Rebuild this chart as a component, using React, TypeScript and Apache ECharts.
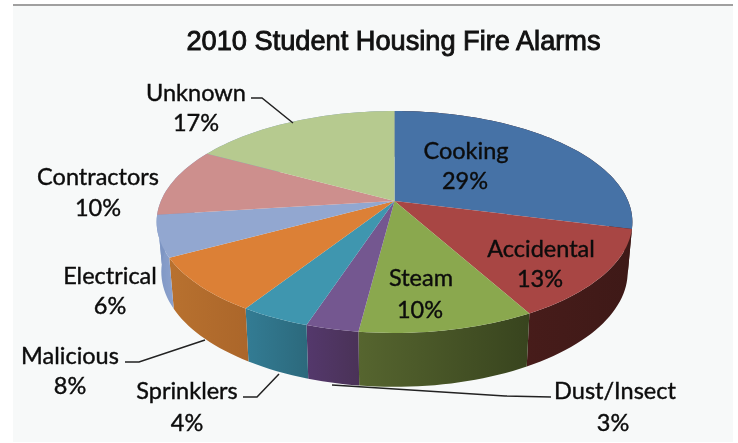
import React, { useEffect, useRef } from "react";
import * as echarts from "echarts";

const chartTitle = "2010 Student Housing Fire Alarms";
const categories = ["Cooking", "Accidental", "Steam", "Dust/Insect", "Sprinklers", "Malicious", "Electrical", "Contractors", "Unknown"];
const shares = [29, 13, 10, 3, 4, 8, 6, 10, 17];

const topColors = ["#4672a6", "#a84644", "#8aa84e", "#745790", "#3f96af", "#dc8036", "#92a7d0", "#cd8f8d", "#b6ca8f"];
const wallLeft = ["#3f1a17", "#471c1a", "#56652f", "#54386c", "#337c94", "#b8712f", "#7d95c3", "#7d95c3", "#7d95c3"];
const wallRight = ["#3f1a17", "#3e1917", "#38441e", "#4a3257", "#2c697c", "#ab662a", "#8ca2cd", "#7d95c3", "#7d95c3"];

// Label anchor [x, y of name, x of share, y of share]
const labelAnchors = [
  [466, 150, 465, 180],
  [541, 248, 540, 278],
  [421, 277, 420, 309],
  [615, 390, 613, 422],
  [187, 390, 187, 422],
  [70, 355, 70, 385],
  [110, 275, 110, 305],
  [98, 176, 98, 207],
  [196, 92, 196, 122],
];
const leaderPaths: number[][][] = [
  [[551, 397], [505, 396], [332, 385]],
  [[243, 397], [257, 397], [279, 374]],
  [[125, 362], [139, 362], [205, 340]],
  [[251, 98], [262, 98], [293, 123]],
];

// Perspective disk of the pie
const CX = 394.5;
const TOP_Y = 201;
const PERSP = -0.189;
const TOP_A = 107;
const TOP_D = 233.6;
const BASE_Y = 250;
const BASE_A = 111;
const BASE_D = 229;

const total = shares.reduce((a, b) => a + b, 0);
const cumul: number[] = [];
shares.reduce((acc, v, i) => {
  cumul[i] = acc;
  return acc + v;
}, 0);

function rim(frac: number, y0: number, a: number, d: number): number[] {
  const t = frac * Math.PI * 2;
  const u = Math.sin(t);
  const v = -Math.cos(t);
  const w = 1 + PERSP * v;
  return [CX + (d * u) / w, y0 + (a * v) / w];
}

function arc(from: number, to: number, y0: number, a: number, d: number): number[][] {
  const n = Math.max(4, Math.ceil((to - from) * 200));
  const pts: number[][] = [];
  for (let i = 0; i <= n; i++) pts.push(rim(from + ((to - from) * i) / n, y0, a, d));
  return pts;
}

export default function App() {
  const ref = useRef<HTMLDivElement>(null);
  useEffect(() => {
    const chart = echarts.init(ref.current!, null, { renderer: "svg" });
    const data = shares.map((v, i) => [i, v]);
    chart.setOption({
      animation: false,
      backgroundColor: "#ffffff",
      title: {
        text: chartTitle,
        left: 388.5,
        top: 22,
        textAlign: "center",
        textStyle: {
          fontFamily: "Liberation Sans",
          fontSize: 27.2,
          fontWeight: "normal",
          color: "#111111",
          textBorderColor: "#111111",
          textBorderWidth: 0.9,
        },
      },
      graphic: [
        { type: "rect", z: -10, shape: { x: 13, y: 4, width: 720, height: 438 }, style: { fill: "#f7f9f9" } },
        { type: "rect", z: -9, shape: { x: 13, y: 4, width: 720, height: 2 }, style: { fill: "#a0a0a0" } },
      ],
      series: [
        {
          type: "custom",
          coordinateSystem: "none",
          z: 1,
          data,
          renderItem: (_p: any, api: any) => {
            const i = api.value(0);
            const from = cumul[i] / total;
            const to = (cumul[i] + api.value(1)) / total;
            const points = arc(from, to, TOP_Y, TOP_A, TOP_D).concat(arc(from, to, BASE_Y, BASE_A, BASE_D).reverse());
            const fill = new echarts.graphic.LinearGradient(0, 0, 1, 0, [
              { offset: 0, color: wallLeft[i] },
              { offset: 1, color: wallRight[i] },
            ]);
            return { type: "polygon", shape: { points }, style: { fill, stroke: null } };
          },
        },
        {
          type: "custom",
          coordinateSystem: "none",
          z: 2,
          data,
          renderItem: (_p: any, api: any) => {
            const i = api.value(0);
            const from = cumul[i] / total;
            const to = (cumul[i] + api.value(1)) / total;
            const points = [[CX, TOP_Y]].concat(arc(from, to, TOP_Y, TOP_A, TOP_D));
            return { type: "polygon", shape: { points }, style: { fill: topColors[i], stroke: null } };
          },
        },
        {
          type: "custom",
          coordinateSystem: "none",
          z: 3,
          data: leaderPaths.map((_, i) => [i]),
          renderItem: (_p: any, api: any) => ({
            type: "polyline",
            shape: { points: leaderPaths[api.value(0)] },
            style: { stroke: "#222222", lineWidth: 1.5, fill: null },
          }),
        },
        {
          type: "custom",
          coordinateSystem: "none",
          z: 4,
          data,
          renderItem: (_p: any, api: any) => {
            const i = api.value(0);
            const [nx, ny, px, py] = labelAnchors[i];
            const font = "23.5px Lato";
            const common = { align: "center", verticalAlign: "middle", font, fill: "#0c0c0c", stroke: "#0c0c0c", lineWidth: 0.4 };
            return {
              type: "group",
              children: [
                { type: "text", style: { ...common, x: nx, y: ny, text: categories[i] } },
                { type: "text", style: { ...common, x: px, y: py, text: api.value(1) + "%" } },
              ],
            };
          },
        },
      ],
    });
    return () => chart.dispose();
  }, []);
  return <div ref={ref} style={{ position: "fixed", left: 0, top: 0, width: 738, height: 443, filter: "blur(0.5px)" }} />;
}
